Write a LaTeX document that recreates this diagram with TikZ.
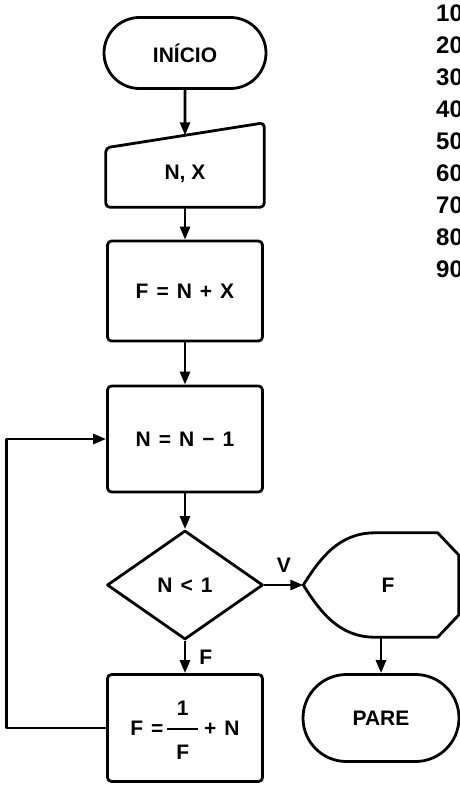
\documentclass[tikz,border=0pt]{standalone}
\usepackage{fontspec}
\setmainfont{Liberation Sans}
\usetikzlibrary{arrows.meta,positioning,calc,shapes.geometric,shapes.misc}
\newcommand{\esp}{\hspace{8pt}}
\newcommand{\fracao}[2]{\raisebox{-24pt}{\setlength{\arrayrulewidth}{2.2pt}%
  \begin{tabular}[b]{@{\hspace{9pt}}c@{\hspace{9pt}}}#1\\[5pt]\hline\rule{0pt}{29pt}#2\end{tabular}}}
\tikzset{
  linha/.style={line width=2.8pt,line join=round},
  seta/.style={linha,-{Triangle[length=13pt,width=10pt]}},
  texto/.style={font=\fontsize{21}{24}\selectfont\bfseries},
  caixa/.style={draw,linha,texto,rounded corners=4pt,minimum width=155pt,inner sep=0pt},
  terminal/.style={draw,linha,texto,rounded rectangle,inner sep=0pt},
  decisao/.style={draw,linha,texto,diamond,aspect=1.43,minimum width=156pt,
                  minimum height=109pt,inner sep=0pt},
  moldura/.style={texto,inner sep=0pt},
  rotulo/.style={texto,inner sep=3pt},
  numero/.style={anchor=west,inner sep=0pt,font=\fontsize{24}{28}\selectfont\bfseries},
}

\begin{document}
\begin{tikzpicture}[x=1pt,y=-1pt]
  \useasboundingbox (0,0) rectangle (460,787);
  \clip (0,0) rectangle (460,787);

  % coluna principal
  \node[terminal,minimum width=162pt,minimum height=71pt] (inicio) at (185,53) {INÍCIO};
  \node[moldura,minimum width=158pt,minimum height=84pt,text height=29pt,text depth=0pt]
    (leitura) at (185,165) {N, X};
  \draw[linha,rounded corners=4pt] (leitura.south west) -- (leitura.south east)
    -- (leitura.north east) -- ($(leitura.north west)+(0,25)$) -- cycle;
  \node[caixa,minimum height=100pt] (calc1) at (185,291) {F\esp=\esp N\esp+\esp X};
  \node[caixa,minimum height=106pt] (calc2) at (185,439) {N\esp=\esp N\esp−\esp 1};
  \node[decisao] (teste) at (185,585) {N\esp<\esp 1};
  \node[caixa,minimum height=107pt,text height=37pt,text depth=22.5pt] (calc3) at (185,728)
    {F\esp=\hspace{4pt}\fracao{1}{F}\hspace{6pt}+\esp N};

  % saida e fim
  \node[moldura,minimum width=155pt,minimum height=104pt] (saida) at (381,585) {\hspace*{14pt}F};
  \draw[linha] (saida.west) .. controls ($(saida.west)+(17,-27)$) and ($(saida.north)+(-42,0)$)
    .. ($(saida.north)+(-6,0)$) -- ($(saida.north east)+(-21,0)$) -- ($(saida.east)+(0,-30)$)
    -- ($(saida.east)+(0,30)$) -- ($(saida.south east)+(-21,0)$) -- ($(saida.south)+(-6,0)$)
    .. controls ($(saida.south)+(-42,0)$) and ($(saida.west)+(17,27)$) .. (saida.west) -- cycle;
  \node[terminal,minimum width=156pt,minimum height=87pt] (pare) at (381,718) {PARE};

  % conectores
  \coordinate (entrada) at ($(leitura.north west)!0.5!(leitura.north east)+(0,12.5)$);
  \coordinate (volta) at (6.5,728);
  \draw[seta] (inicio.south) -- (entrada);
  \draw[seta] (leitura.south) -- (calc1.north);
  \draw[seta] (calc1.south) -- (calc2.north);
  \draw[seta] (calc2.south) -- (teste.north);
  \draw[seta] (teste.east) -- node[rotulo,above=8pt] {V} (saida.west);
  \draw[seta] (teste.south) -- node[rotulo,right=10pt] {F} (calc3.north);
  \draw[seta] (saida.south) -- (pare.north);
  \draw[seta] (calc3.west) -- (volta) |- (calc2.west);

  % listagem
  \foreach \n [count=\i from 0] in {10,20,...,90}
    \node[numero] (num\n) at (436,{13+32*\i}) {\n};
\end{tikzpicture}
\end{document}
